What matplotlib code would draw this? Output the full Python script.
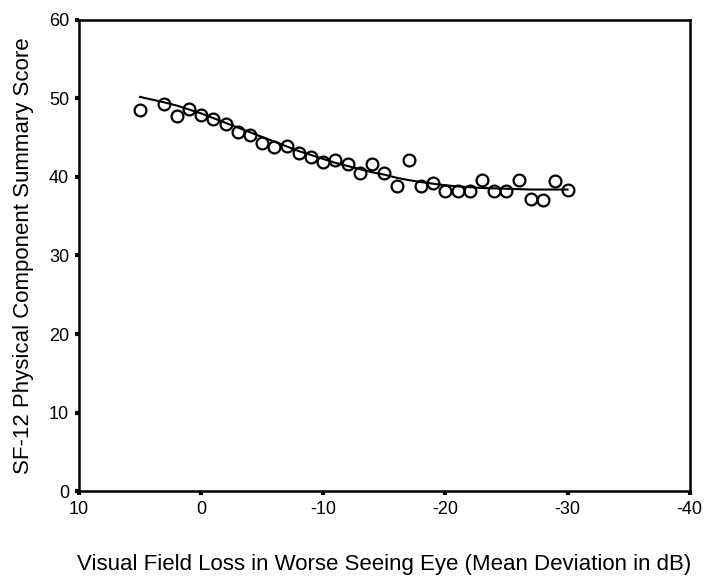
import numpy as np
import matplotlib
matplotlib.use("Agg")
import matplotlib.pyplot as plt

plt.rcParams['font.family'] = ['Liberation Sans', 'DejaVu Sans']
plt.rcParams['axes.unicode_minus'] = False

# observed scores by mean deviation (dB)
md = [5, 3, 2, 1, 0, -1, -2, -3, -4, -5, -6, -7, -8, -9, -10, -11, -12, -13,
      -14, -15, -16, -17, -18, -19, -20, -21, -22, -23, -24, -25, -26, -27,
      -28, -29, -30]
pcs = [48.5, 49.3, 47.8, 48.6, 47.9, 47.4, 46.8, 45.7, 45.35, 44.3, 43.8,
       43.9, 43.0, 42.6, 41.9, 42.2, 41.6, 40.5, 41.7, 40.5, 38.8, 42.2, 38.8,
       39.2, 38.2, 38.2, 38.2, 39.6, 38.25, 38.25, 39.6, 37.2, 37.1, 39.45,
       38.4]

# smoothed curve
fit_md = [5, 3, 2, 1, 0, -1, -2, -3, -4, -5, -6, -7, -8, -9, -10, -11, -12,
          -13, -14, -15, -16, -17, -18, -19, -20, -21, -22, -23, -24, -25,
          -26, -27, -28, -29, -30]
fit_pcs = [50.2, 49.5, 49.1, 48.6, 48.1, 47.5, 46.9, 46.3, 45.7, 45.1, 44.5,
           43.9, 43.3, 42.8, 42.3, 41.8, 41.4, 41.0, 40.6, 40.3, 39.9, 39.6,
           39.35, 39.15, 38.95, 38.8, 38.7, 38.6, 38.55, 38.5, 38.45, 38.4,
           38.4, 38.4, 38.4]

xticks = [10, 0, -10, -20, -30, -40]
yticks = [0, 10, 20, 30, 40, 50, 60]

fig = plt.figure(figsize=(7.11, 5.87), dpi=100)
ax = fig.add_axes([0.111, 0.1635, 0.859, 0.8025])

ax.plot(fit_md, fit_pcs, "-", color="black", linewidth=1.5, zorder=2)
ax.plot(md, pcs, "o", markersize=8.5, markerfacecolor="none",
        markeredgecolor="black", markeredgewidth=1.6, zorder=3)

ax.set_xlim(10, -40)
ax.set_ylim(0, 60)
ax.set_xticks(xticks)
ax.set_yticks(yticks)
ax.set_xticklabels([str(t) for t in xticks])

for s in ax.spines.values():
    s.set_linewidth(1.8)
ax.tick_params(direction='out', length=3, width=3, labelsize=13, pad=4)

ax.set_xlabel("Visual Field Loss in Worse Seeing Eye (Mean Deviation in dB)",
              fontsize=16, labelpad=26)
ax.set_ylabel("SF-12 Physical Component Summary Score", fontsize=16,
              labelpad=11)

fig.savefig("out.png", dpi=100)
